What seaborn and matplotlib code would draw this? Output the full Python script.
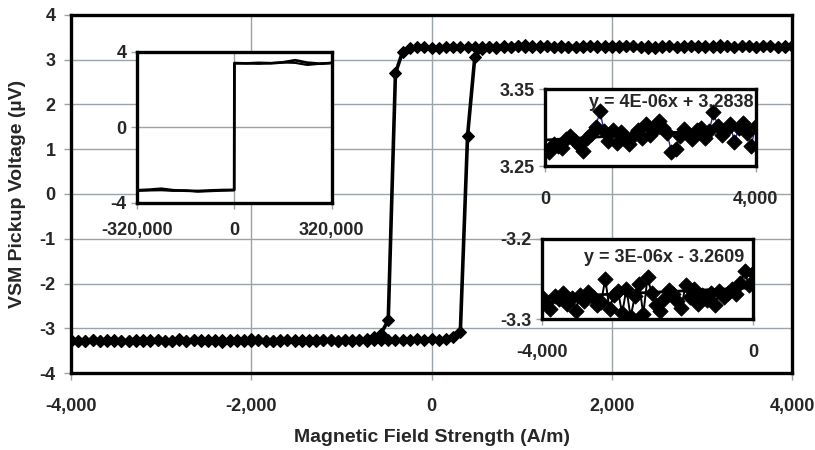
import numpy as np
import seaborn as sb
import matplotlib.pyplot as plt
from matplotlib.ticker import FuncFormatter

sb.set_theme(style='white')
plt.rcParams['font.family'] = ['Liberation Sans', 'DejaVu Sans']
plt.rcParams['font.weight'] = 'bold'
plt.rcParams['axes.unicode_minus'] = False

# Field sweep, 80 A/m steps
field = np.arange(-4000, 4001, 80)

# Upper plateau, 0 .. 4000 A/m (upper right inset)
up_v = [3.271, 3.268, 3.279, 3.276, 3.274, 3.285, 3.289, 3.282, 3.277, 3.270,
        3.286, 3.292, 3.301, 3.321, 3.296, 3.283, 3.297, 3.280, 3.294, 3.288,
        3.279, 3.291, 3.297, 3.286, 3.305, 3.290, 3.301, 3.308, 3.299, 3.293,
        3.268, 3.272, 3.289, 3.298, 3.292, 3.285, 3.297, 3.300, 3.287, 3.295,
        3.320, 3.302, 3.291, 3.297, 3.304, 3.281, 3.299, 3.306, 3.293, 3.276,
        3.302]
up_trend = (4e-06, 3.2838)

# Lower plateau, -4000 .. 0 A/m (lower right inset)
lo_v = [-3.273, -3.280, -3.287, -3.271, -3.275, -3.268, -3.281, -3.274, -3.290, -3.270,
        -3.277, -3.266, -3.272, -3.283, -3.279, -3.250, -3.288, -3.270, -3.265, -3.293,
        -3.262, -3.298, -3.271, -3.256, -3.294, -3.248, -3.268, -3.282, -3.290, -3.275,
        -3.264, -3.269, -3.277, -3.286, -3.258, -3.272, -3.263, -3.281, -3.270, -3.276,
        -3.268, -3.283, -3.265, -3.272, -3.267, -3.262, -3.269, -3.255, -3.240, -3.258,
        -3.243]
lo_trend = (3e-06, -3.2609)

# switching points: ascending 80..560, descending -80..-560
rise = [-3.262, -3.245, -3.20, -3.08, 1.30, 3.05, 3.25]
fall = [3.290, 3.281, 3.262, 3.18, 2.70, -2.82, -3.12]

# rest of ascending sweep 640..4000
up_tail = [3.285, 3.292, 3.298, 3.290, 3.301, 3.295, 3.288, 3.296, 3.302, 3.291,
           3.299, 3.294, 3.287, 3.300, 3.296, 3.303, 3.292, 3.298, 3.290, 3.297,
           3.305, 3.294, 3.299, 3.288, 3.296, 3.302, 3.293, 3.300, 3.297, 3.291,
           3.304, 3.298, 3.292, 3.300, 3.295, 3.303, 3.297, 3.290, 3.299, 3.301,
           3.294, 3.298, 3.302]
# rest of descending sweep -640..-4000
lo_tail = [-3.20, -3.24, -3.258, -3.268, -3.262, -3.274, -3.270, -3.265, -3.277, -3.271,
           -3.268, -3.279, -3.273, -3.266, -3.275, -3.281, -3.270, -3.276, -3.269, -3.283,
           -3.274, -3.271, -3.278, -3.266, -3.280, -3.273, -3.277, -3.270, -3.284, -3.275,
           -3.272, -3.279, -3.268, -3.276, -3.282, -3.274, -3.271, -3.278, -3.285, -3.273,
           -3.277, -3.280, -3.275]

ascending = lo_v + rise + up_tail
descending = up_v[::-1] + fall + lo_tail

# big field loop (+-320,000 A/m)
big_h = [-320000, -280000, -240000, -200000, -160000, -120000, -80000, -40000, -400,
         400, 40000, 80000, 120000, 160000, 200000, 240000, 280000, 320000]
big_asc = [-3.33, -3.30, -3.25, -3.33, -3.35, -3.37, -3.34, -3.32, -3.31,
           3.40, 3.38, 3.41, 3.39, 3.44, 3.55, 3.42, 3.37, 3.40]
big_desc = [-3.36, -3.34, -3.33, -3.36, -3.34, -3.40, -3.38, -3.35, -3.33,
            3.38, 3.40, 3.36, 3.40, 3.43, 3.41, 3.30, 3.36, 3.42]

grid_c = '#9aa3a8'
thou = FuncFormatter(lambda v, p: f'{v:,.0f}')


def style_inset(ax, lw=2.0):
    for s in ax.spines.values():
        s.set_color('black')
        s.set_linewidth(lw)
    ax.set_facecolor('white')
    ax.tick_params(axis='both', which='both', direction='out', length=4, width=1,
                   color=grid_c, labelsize=13, left=True, bottom=True)
    ax.set_xlabel('')
    ax.set_ylabel('')


fig = plt.figure(figsize=(8.15, 4.5), dpi=100)
ax = fig.add_axes([0.0871, 0.1711, 0.8847, 0.7956])

sb.lineplot(x=field, y=ascending, sort=False, estimator=None, ax=ax, color='black',
            lw=2.6, marker='D', markersize=6.5, markeredgecolor='black')
sb.lineplot(x=field[::-1], y=descending, sort=False, estimator=None, ax=ax, color='black',
            lw=2.6, marker='D', markersize=6.5, markeredgecolor='black')
ax.set_xlim(-4000, 4000)
ax.set_ylim(-4, 4)
ax.set_xticks([-4000, -2000, 0, 2000, 4000])
ax.set_yticks(range(-4, 5))
ax.xaxis.set_major_formatter(thou)
ax.grid(True, color=grid_c, lw=1)
for s in ax.spines.values():
    s.set_color('black')
    s.set_linewidth(2.4)
ax.tick_params(axis='both', direction='out', length=5, width=1, color=grid_c,
               labelsize=13, left=True, bottom=True, pad=6)
ax.tick_params(axis='x', pad=13)
ax.set_xlabel('Magnetic Field Strength (A/m)', fontsize=14, fontweight='bold', labelpad=10)
ax.set_ylabel('VSM Pickup Voltage (µV)', fontsize=14, fontweight='bold', labelpad=10)

# big loop inset
a1 = fig.add_axes([0.168, 0.549, 0.239, 0.336])
sb.lineplot(x=big_h, y=big_asc, sort=False, estimator=None, ax=a1, color='black', lw=2.0)
sb.lineplot(x=big_h, y=big_desc, sort=False, estimator=None, ax=a1, color='black', lw=1.5)
a1.set_xlim(-320000, 320000)
a1.set_ylim(-4, 4)
a1.set_xticks([-320000, 0, 320000])
a1.set_yticks([-4, 0, 4])
a1.xaxis.set_major_formatter(thou)
a1.grid(True, color=grid_c, lw=1)
style_inset(a1, 2.4)
a1.tick_params(axis='x', pad=10)

# upper plateau inset
a2 = fig.add_axes([0.669, 0.631, 0.258, 0.171])
h_up = np.arange(0, 4001, 80)
sb.lineplot(x=h_up, y=up_v, sort=False, estimator=None, ax=a2, color='#1f2a9c', lw=1.0,
            zorder=2)
sb.scatterplot(x=h_up, y=up_v, ax=a2, color='black', marker='D', s=60, edgecolor='black',
               zorder=3)
a2.plot([0, 4000], [up_trend[1], up_trend[0] * 4000 + up_trend[1]], color='black', lw=2,
        zorder=4)
a2.set_xlim(0, 4000)
a2.set_ylim(3.25, 3.35)
a2.set_xticks([0, 4000])
a2.set_yticks([3.25, 3.35])
a2.set_yticklabels(['3.25', '3.35'])
a2.xaxis.set_major_formatter(thou)
style_inset(a2, 2.4)
a2.tick_params(axis='x', pad=14)
a2.text(0.99, 0.93, 'y = 4E-06x + 3.2838', transform=a2.transAxes, ha='right', va='top',
        fontsize=13, fontweight='bold', zorder=5)

# lower plateau inset
a3 = fig.add_axes([0.665, 0.291, 0.259, 0.178])
h_lo = np.arange(-4000, 1, 80)
sb.lineplot(x=h_lo, y=lo_v, sort=False, estimator=None, ax=a3, color='black', lw=1.4,
            zorder=2)
sb.scatterplot(x=h_lo, y=lo_v, ax=a3, color='black', marker='D', s=60, edgecolor='black',
               zorder=3)
a3.plot([-4000, 0], [lo_trend[0] * -4000 + lo_trend[1], lo_trend[1]], color='black', lw=2,
        zorder=4)
a3.set_xlim(-4000, 0)
a3.set_ylim(-3.3, -3.2)
a3.set_xticks([-4000, 0])
a3.set_yticks([-3.3, -3.2])
a3.set_yticklabels(['-3.3', '-3.2'])
a3.xaxis.set_major_formatter(thou)
style_inset(a3, 2.4)
a3.tick_params(axis='x', pad=14)
a3.text(0.96, 0.88, 'y = 3E-06x - 3.2609', transform=a3.transAxes, ha='right', va='top',
        fontsize=13, fontweight='bold', zorder=5)

fig.savefig('out.png', dpi=100)
